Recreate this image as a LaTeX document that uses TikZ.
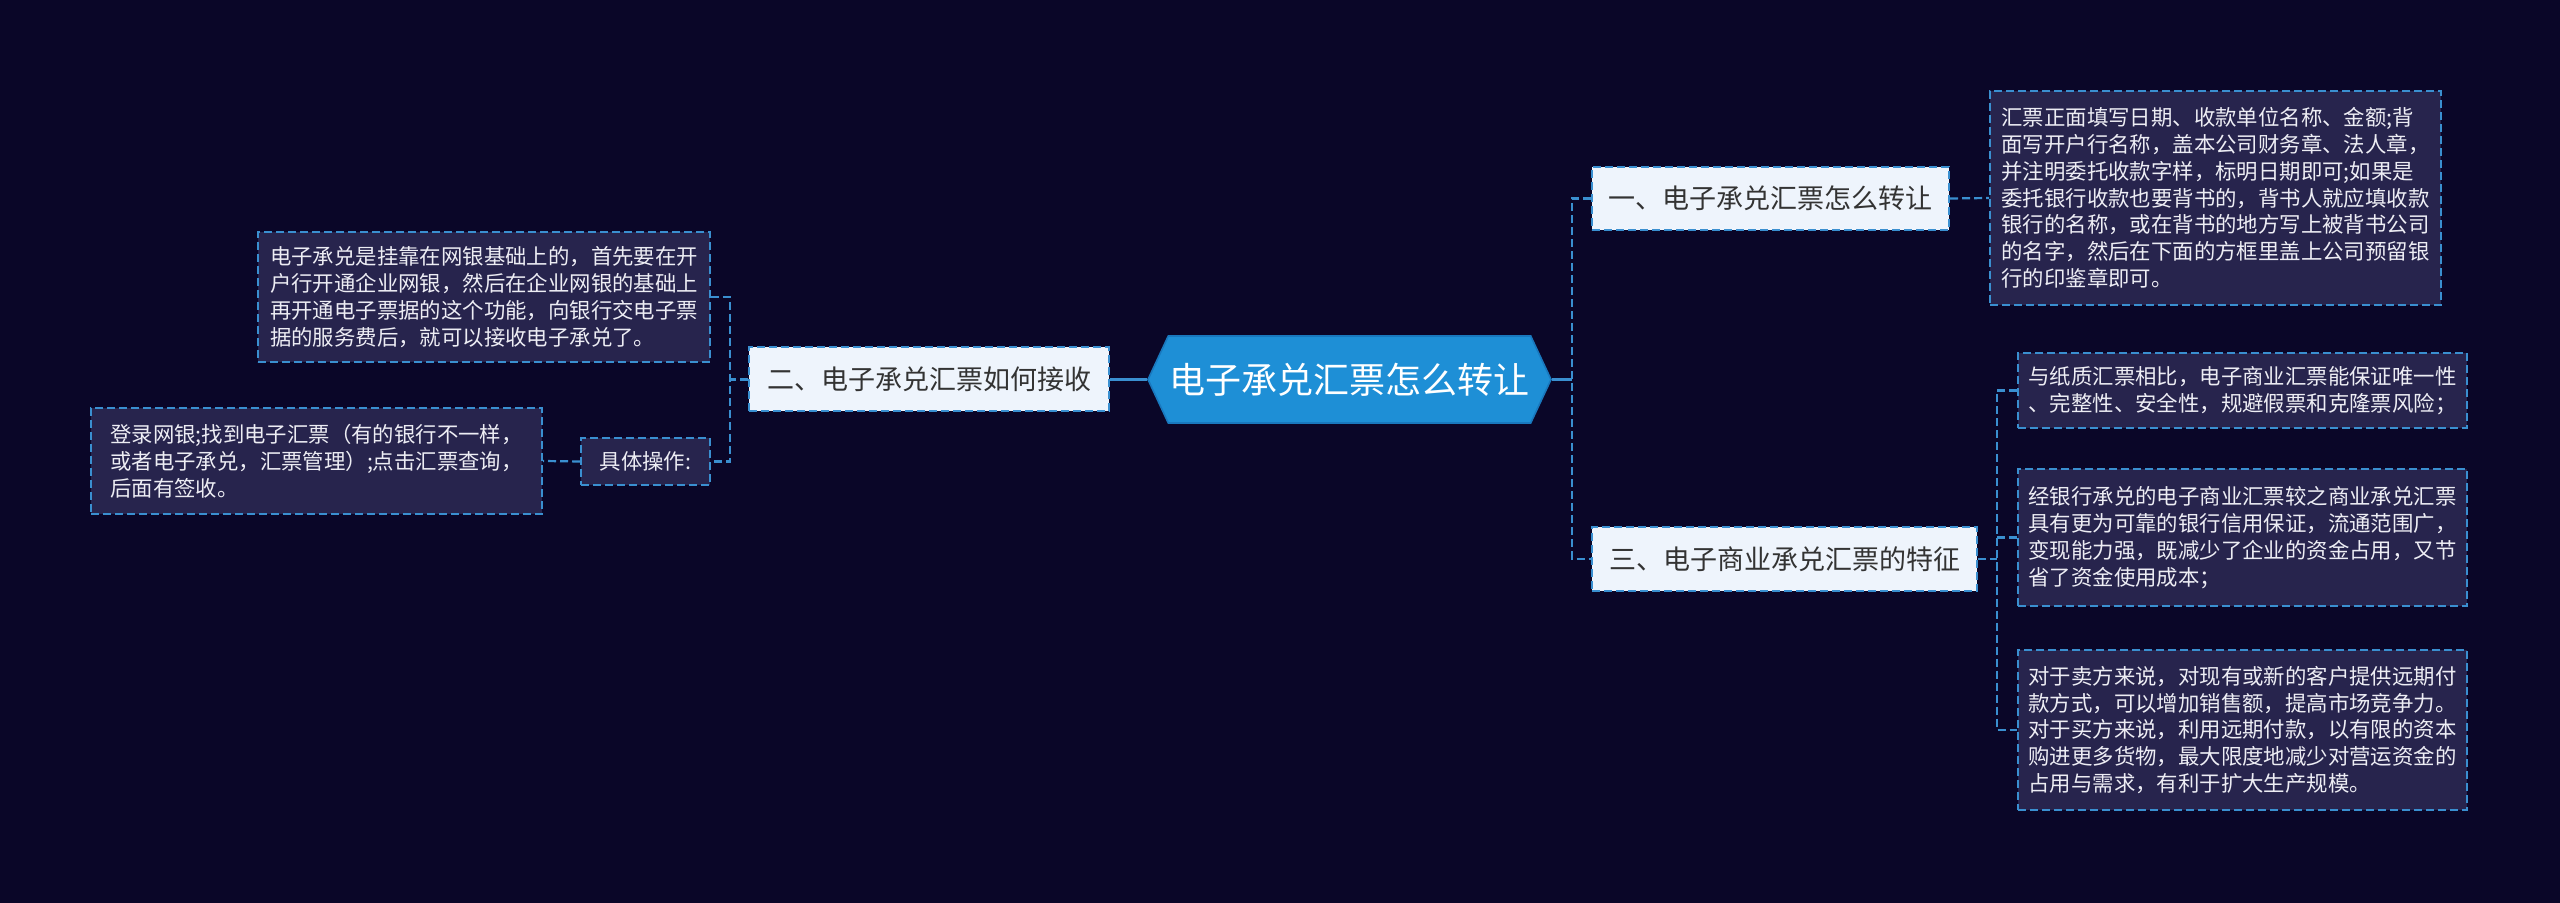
\documentclass[tikz,border=0pt]{standalone}
\usepackage{fontspec}
\setmainfont{Noto Sans CJK SC}
\usetikzlibrary{shapes.symbols}

\definecolor{bgnavy}{HTML}{0A0628}
\definecolor{notefill}{HTML}{27244D}
\definecolor{notetext}{HTML}{EDEDF4}
\definecolor{linkblue}{HTML}{3A8FD0}
\definecolor{topicfill}{HTML}{EEF4FC}
\definecolor{topictext}{HTML}{333333}
\definecolor{rootblue}{HTML}{1E8FD6}
\definecolor{rootedge}{HTML}{1978BE}

\begin{document}
\begin{tikzpicture}[x=0.5pt,y=-0.5pt]

	\tikzset{
		note/.style={
			draw=linkblue,
			fill=notefill,
			dash pattern=on 4pt off 2pt,
			line width=1pt,
			text=notetext,
			align=left,
			inner sep=0pt,
			font=\fontsize{10.7}{13.4}\selectfont
		},
		topic/.style={
			draw=linkblue,
			fill=topicfill,
			dash pattern=on 4pt off 2pt,
			line width=1pt,
			text=topictext,
			inner sep=0pt,
			font=\fontsize{13.5}{16}\selectfont
		},
		rootnode/.style={
			signal,
			signal to=west and east,
			signal pointer angle=130,
			fill=rootblue,
			draw=rootedge,
			line width=0.8pt,
			text=white,
			inner sep=0pt,
			font=\fontsize{18}{20}\selectfont
		},
		link/.style={draw=linkblue, line width=1.5pt},
		dlink/.style={draw=linkblue, line width=1.1pt, dash pattern=on 4pt off 2pt}
	}

	\useasboundingbox[fill=bgnavy] (0,0) rectangle (2560,903);

	\node[rootnode, minimum width=201.5pt, minimum height=43.5pt] (root) at (1349.5,379.5)
	{电子承兑汇票怎么转让};

	\node[topic, minimum width=178.5pt, minimum height=31.5pt] (one) at (1770.5,198.5)
	{一、电子承兑汇票怎么转让};
	\node[topic, minimum width=192.5pt, minimum height=32pt] (three) at (1784.5,559)
	{三、电子商业承兑汇票的特征};
	\node[topic, minimum width=180pt, minimum height=32pt] (two) at (929,379.5)
	{二、电子承兑汇票如何接收};

	\node[note, minimum width=225.5pt, minimum height=107pt] (transfer) at (2215.5,198)
	{汇票正面填写日期、收款单位名称、金额;背\\
	 面写开户行名称，盖本公司财务章、法人章，\\
	 并注明委托收款字样，标明日期即可;如果是\\
	 委托银行收款也要背书的，背书人就应填收款\\
	 银行的名称，或在背书的地方写上被背书公司\\
	 的名字，然后在下面的方框里盖上公司预留银\\
	 行的印鉴章即可。};

	\node[note, minimum width=224.5pt, minimum height=37.5pt] (featA) at (2242.5,390.5)
	{与纸质汇票相比，电子商业汇票能保证唯一性\\
	 、完整性、安全性，规避假票和克隆票风险；};
	\node[note, minimum width=224.5pt, minimum height=68.5pt] (featB) at (2242.5,537.5)
	{经银行承兑的电子商业汇票较之商业承兑汇票\\
	 具有更为可靠的银行信用保证，流通范围广，\\
	 变现能力强，既减少了企业的资金占用，又节\\
	 省了资金使用成本；};
	\node[note, minimum width=224.5pt, minimum height=80pt] (featC) at (2242.5,730)
	{对于卖方来说，对现有或新的客户提供远期付\\
	 款方式，可以增加销售额，提高市场竞争力。\\
	 对于买方来说，利用远期付款，以有限的资本\\
	 购进更多货物，最大限度地减少对营运资金的\\
	 占用与需求，有利于扩大生产规模。};

	\node[note, minimum width=226pt, minimum height=65pt] (basis) at (484,297)
	{电子承兑是挂靠在网银基础上的，首先要在开\\
	 户行开通企业网银，然后在企业网银的基础上\\
	 再开通电子票据的这个功能，向银行交电子票\\
	 据的服务费后，就可以接收电子承兑了。};
	\node[note, minimum width=64.5pt, minimum height=23.5pt] (ops) at (645.5,461.5)
	{具体操作:};
	\node[note, minimum width=225.5pt, minimum height=53pt] (steps) at (316.5,461)
	{登录网银;找到电子汇票（有的银行不一样，\\
	 或者电子承兑，汇票管理）;点击汇票查询，\\
	 后面有签收。};

	\coordinate (rj) at (1572,379.5);
	\coordinate (lj) at (730,379.5);
	\coordinate (fj) at (1997,559);

	\draw[link] (root.east) -- (rj);
	\draw[dlink] (one.west) -- (one.west -| rj) -- (three.west -| rj) -- (three.west);
	\draw[dlink] (one.east) -- (transfer.west);

	\draw[dlink] (three.east) -- (fj);
	\draw[dlink] (featA.west) -- (featA.west -| fj) -- (featC.west -| fj) -- (featC.west);
	\draw[dlink] (featB.west -| fj) -- (featB.west);

	\draw[link] (root.west) -- (two.east);
	\draw[dlink] (two.west) -- (lj);
	\draw[dlink] (basis.east) -- (basis.east -| lj) -- (ops.east -| lj) -- (ops.east);
	\draw[dlink] (ops.west) -- (steps.east);

\end{tikzpicture}
\end{document}
